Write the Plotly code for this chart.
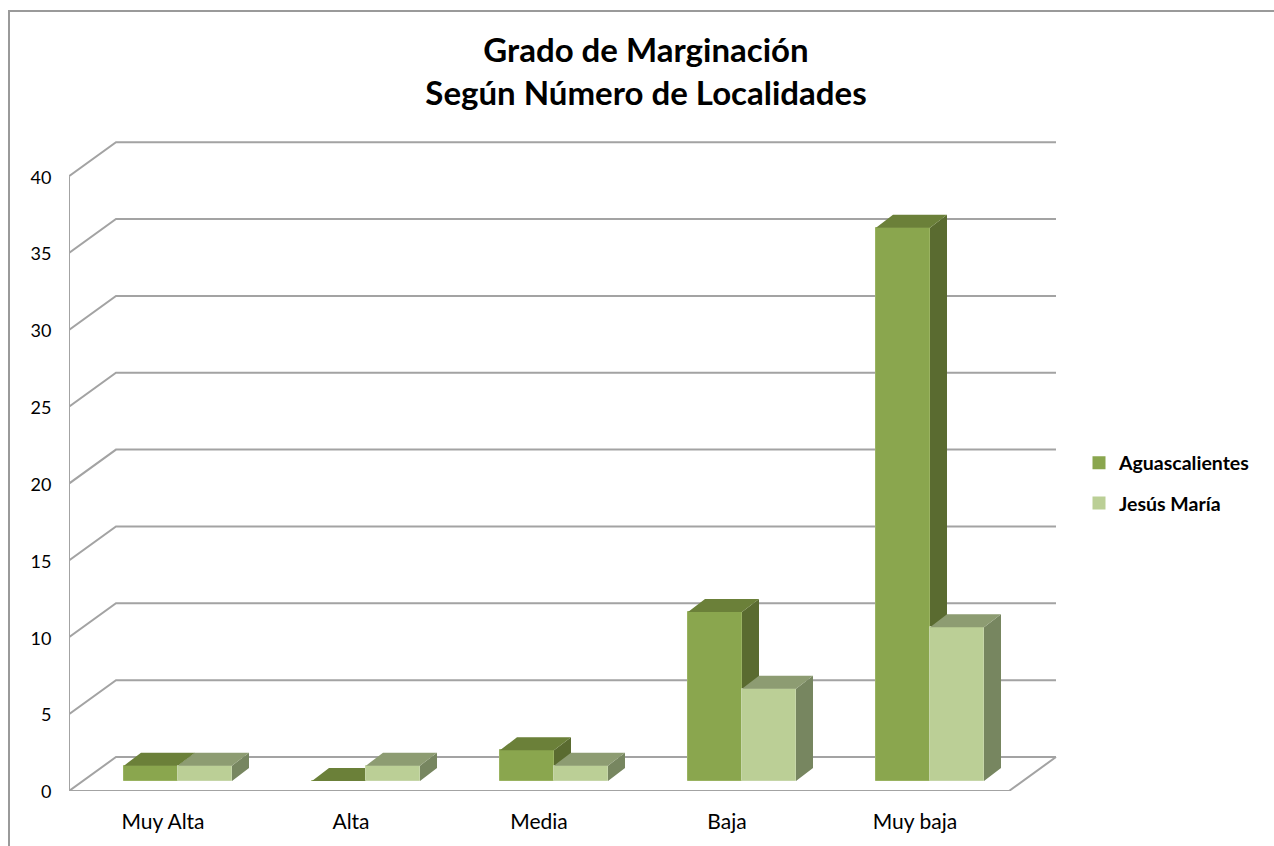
import plotly.graph_objects as go

categories = ["Muy Alta", "Alta", "Media", "Baja", "Muy baja"]
aguascalientes = [1, 0, 2, 11, 36]
jesus_maria = [1, 1, 1, 6, 10]
y_ticks = [0, 5, 10, 15, 20, 25, 30, 35, 40]

PX_X = 188.0      # pixels per category
PX_Y = 15.37      # pixels per unit of value
L, B = 69, 55
W, H = 1274, 846
plot_w, plot_h = W - L, H - B

WALL_DX, WALL_DY = 47 / PX_X, 34 / PX_Y      # depth of the floor
GAP_DX, GAP_DY = 15 / PX_X, 10 / PX_Y        # floor offset of the bars
BAR_DX, BAR_DY = 17 / PX_X, 13 / PX_Y        # depth of a bar
BAR_W = 54 / PX_X
n = len(categories)


def faces(values, side):
    """Top and side faces in data units; side -1 = left bar of the pair, 0 = right bar."""
    top_x, top_y, side_x, side_y = [], [], [], []
    for i, v in enumerate(values):
        x0 = i + 0.5 + GAP_DX + side * BAR_W
        x1 = x0 + BAR_W
        b = GAP_DY
        t = b + v
        top_x += [x0, x1, x1 + BAR_DX, x0 + BAR_DX, x0, None]
        top_y += [t, t, t + BAR_DY, t + BAR_DY, t, None]
        side_x += [x1, x1 + BAR_DX, x1 + BAR_DX, x1, x1, None]
        side_y += [b, b + BAR_DY, t + BAR_DY, t, b, None]
    return top_x, top_y, side_x, side_y


def series(name, values, side, front, top, side_col, edge, xa, ya):
    xs = [i + 0.5 + GAP_DX + (side + 0.5) * BAR_W for i in range(n)]
    tx, ty, sx, sy = faces(values, side)
    return [
        go.Bar(x=xs, y=values, base=GAP_DY, width=BAR_W, marker=dict(color=front, line=dict(color=edge, width=1)),
               xaxis=xa, yaxis=ya, showlegend=False, hoverinfo="skip"),
        go.Scatter(x=sx, y=sy, mode="lines", fill="toself", fillcolor=side_col, line=dict(width=0),
                   xaxis=xa, yaxis=ya, showlegend=False, hoverinfo="skip"),
        go.Scatter(x=tx, y=ty, mode="lines", fill="toself", fillcolor=top, line=dict(width=0),
                   xaxis=xa, yaxis=ya, showlegend=False, hoverinfo="skip"),
        go.Scatter(x=[None], y=[None], mode="markers", name=name, legendgroup=name,
                   marker=dict(symbol="square", size=13, color=front), xaxis=xa, yaxis=ya),
    ]


fig = go.Figure()
for t in series("Aguascalientes", aguascalientes, -1, "#8AA64E", "#6B8039", "#5A6B30", "#9AB361", "x", "y"):
    fig.add_trace(t)
for t in series("Jesús María", jesus_maria, 0, "#BBCF96", "#8D9C72", "#778660", "#C6D6A8", "x2", "y2"):
    fig.add_trace(t)

GRID = "#A3A3A3"
shapes = []
for v in y_ticks:
    shapes.append(dict(type="path", layer="below", xref="x", yref="y",
                       path=f"M 0 {v} L {WALL_DX} {v + WALL_DY} L {n + WALL_DX} {v + WALL_DY}",
                       line=dict(color=GRID, width=2)))
# left wall edge and floor front/right edges
shapes.append(dict(type="path", layer="below", xref="x", yref="y",
                   path=f"M 0 {y_ticks[-1]} L 0 0 L {n} 0 L {n + WALL_DX} {WALL_DY}",
                   line=dict(color=GRID, width=2)))
# chart frame (left and top sides are in view)
fx = (9 - L) / plot_w
fy = (H - 11 - B) / plot_h
shapes.append(dict(type="path", layer="below", xref="paper", yref="paper",
                   path=f"M {fx} {-B / plot_h} L {fx} {fy} L 1 {fy}",
                   line=dict(color="#9A9A9A", width=2)))

rx = [0, plot_w / PX_X]
ry = [0, plot_h / PX_Y]
font_name = "Lato, Carlito, Calibri, sans-serif"
fig.update_layout(
    width=W, height=H, autosize=False,
    margin=dict(l=L, r=0, t=0, b=B, pad=0),
    paper_bgcolor="white", plot_bgcolor="rgba(0,0,0,0)",
    barmode="overlay", bargap=0,
    font=dict(family=font_name, size=17, color="#000000"),
    title=dict(text="<b>Grado de Marginación<br>Según Número de Localidades</b>",
               x=646 / W, xanchor="center", y=1 - 62 / H, yanchor="middle",
               font=dict(family=font_name, size=33, color="#000000")),
    xaxis=dict(range=rx, showgrid=False, zeroline=False, showline=False, tickmode="array",
               tickvals=[i + 0.5 for i in range(n)], ticktext=categories,
               ticks="outside", ticklen=12, tickcolor="rgba(0,0,0,0)", tickfont=dict(size=21)),
    yaxis=dict(range=ry, showgrid=False, zeroline=False, showline=False, tickmode="array",
               tickvals=y_ticks, ticktext=[str(v) for v in y_ticks], ticklabelshift=1,
               ticks="outside", ticklen=13, tickcolor="rgba(0,0,0,0)", tickfont=dict(size=18)),
    xaxis2=dict(range=rx, overlaying="x", visible=False),
    yaxis2=dict(range=ry, overlaying="y", visible=False),
    legend=dict(x=(1079 - L) / plot_w, xanchor="left", y=(H - 483 - B) / plot_h, yanchor="middle",
                font=dict(family=font_name, size=19.5, color="#000000", weight="bold"),
                bgcolor="rgba(0,0,0,0)", itemclick=False, itemdoubleclick=False, tracegroupgap=12),
    shapes=shapes,
    hovermode=False,
)
fig.write_html("out.html", config={"displayModeBar": False},
               post_script="document.body.style.margin='0';document.documentElement.style.overflow='hidden';")
